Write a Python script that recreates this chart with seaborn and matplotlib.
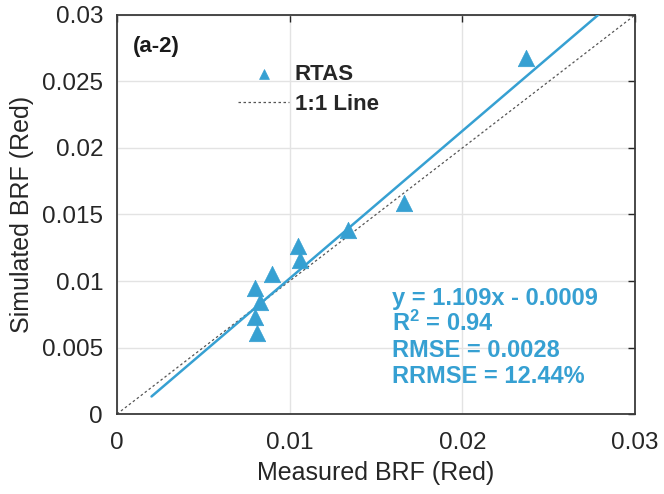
import numpy as np
import pandas as pd
import matplotlib
matplotlib.use('Agg')
import matplotlib.pyplot as plt
import seaborn as sns

# Values.
measured = [0.0237, 0.0166, 0.0134, 0.0105, 0.0106, 0.0090, 0.0080, 0.0083, 0.0080, 0.0081]
simulated = [0.0268, 0.0159, 0.0138, 0.0126, 0.0116, 0.0105, 0.0095, 0.0084, 0.0073, 0.0061]
slope = 1.109
intercept = -0.0009
fit_x = [0.002, 0.028]
one_x = [0.0, 0.03]
yticks = [0, 0.005, 0.01, 0.015, 0.02, 0.025, 0.03]
ytick_labels = ['0', '0.005', '0.01', '0.015', '0.02', '0.025', '0.03']
xticks = [0, 0.01, 0.02, 0.03]
xtick_labels = ['0', '0.01', '0.02', '0.03']
stats_lines = ['y = 1.109x - 0.0009', 'R$^2$ = 0.94', 'RMSE = 0.0028', 'RRMSE = 12.44%']

blue = '#36a0d2'

sns.set_style('white')
plt.rcParams['font.family'] = ['Liberation Sans', 'DejaVu Sans']
plt.rcParams['mathtext.fontset'] = 'custom'
plt.rcParams['mathtext.rm'] = 'Liberation Sans:bold'
plt.rcParams['mathtext.default'] = 'rm'

fig = plt.figure(figsize=(6.64, 4.94), dpi=100)
ax = fig.add_axes([117 / 664, 1 - 414 / 494, 518 / 664, 399 / 494])

df = pd.DataFrame({'Measured': measured, 'Simulated': simulated})

# 1:1 line
ax.plot(one_x, one_x, ls=(0, (2, 2)), color='#555555', lw=0.9, label='1:1 Line', zorder=2)
# fitted line
fx = np.array(fit_x)
ax.plot(fx, slope * fx + intercept, color=blue, lw=1.8, zorder=3)
sns.scatterplot(data=df, x='Measured', y='Simulated', marker='^', s=140, color=blue,
                edgecolor=blue, linewidth=0.5, ax=ax, zorder=4, label='RTAS')

ax.set_xlim(0, 0.03)
ax.set_ylim(0, 0.03)
ax.set_xticks(xticks)
ax.set_xticklabels(xtick_labels)
ax.set_yticks(yticks)
ax.set_yticklabels(ytick_labels)
ax.grid(True, color='#e3e3e3', lw=1.0)
ax.set_axisbelow(True)
ax.tick_params(direction='in', length=5, width=1, labelsize=17.5, color='#262626',
               top=True, right=True, labelcolor='#262626')
ax.tick_params(axis='x', pad=13)
ax.tick_params(axis='y', pad=10)
for s in ax.spines.values():
    s.set_color('#3a3a3a')
    s.set_linewidth(1.3)

ax.set_xlabel('Measured BRF (Red)', fontsize=18, color='#262626', labelpad=5)
ax.set_ylabel('Simulated BRF (Red)', fontsize=18, color='#262626', labelpad=6)

ax.text(0.00093, 0.0276, '(a-2)', fontsize=16, fontweight='bold', color='#1a1a1a', va='center')

h, l = ax.get_legend_handles_labels()
order = [l.index('RTAS'), l.index('1:1 Line')]
leg = ax.legend([h[i] for i in order], [l[i] for i in order], loc='upper left',
                bbox_to_anchor=(0.234, 0.877), frameon=False, borderpad=0, borderaxespad=0,
                prop={'weight': 'bold', 'size': 16},
                handlelength=2.3, handletextpad=0.25, labelspacing=0.4, markerscale=0.6)

baselines = [0.0082, 0.00624, 0.00429, 0.00233]
for txt, yb in zip(stats_lines, baselines):
    ax.text(0.0159, yb, txt, fontsize=17, fontweight='bold', color=blue, va='baseline')

fig.savefig('out.png', dpi=100)
